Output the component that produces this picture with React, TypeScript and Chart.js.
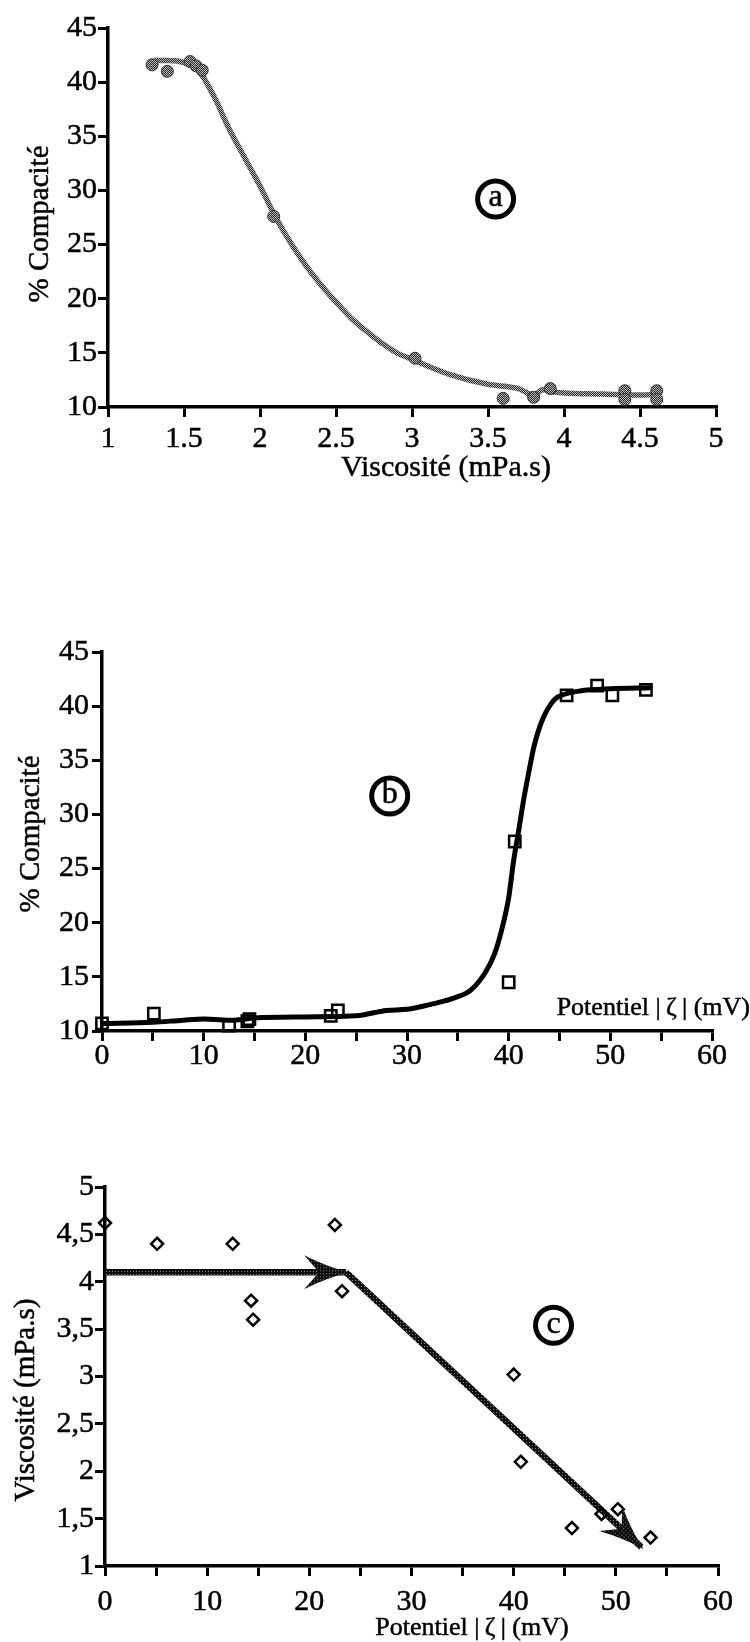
import React, { useEffect, useRef } from 'react';
import { Chart, registerables } from 'chart.js';
Chart.register(...registerables);

const FONT = "'Liberation Serif', 'Times New Roman', serif";
const TICK_SIZE = 30;

// ---------- Chart (a): % Compacité vs Viscosité ----------
const aPointsX = [1.29, 1.39, 1.54, 1.58, 1.62, 2.09, 3.02, 3.6, 3.8, 3.91, 4.4, 4.4, 4.61, 4.61];
const aPointsY = [41.6, 41.0, 41.9, 41.5, 41.1, 27.6, 14.5, 10.8, 10.9, 11.7, 11.5, 10.7, 11.5, 10.7];
const aCurveX = [1.3, 1.4, 1.5, 1.6, 1.7, 1.8, 1.9, 2.0, 2.1, 2.2, 2.3, 2.4, 2.5, 2.6, 2.7, 2.8, 2.9, 3.0, 3.1, 3.25, 3.5, 3.7, 3.8, 3.86, 3.92, 4.0, 4.25, 4.5, 4.62];
const aCurveY = [42.0, 42.0, 41.8, 41.0, 38.6, 35.6, 33.0, 30.4, 27.6, 25.2, 23.1, 21.3, 19.7, 18.2, 17.0, 15.9, 15.0, 14.4, 13.8, 13.0, 12.1, 11.7, 11.1, 11.6, 11.4, 11.3, 11.2, 11.1, 11.2];
const aXTickValues = [1, 1.5, 2, 2.5, 3, 3.5, 4, 4.5, 5];
const aXTickLabels = ['1', '1.5', '2', '2.5', '3', '3.5', '4', '4.5', '5'];
const aYTickValues = [10, 15, 20, 25, 30, 35, 40, 45];
const aYTickLabels = ['10', '15', '20', '25', '30', '35', '40', '45'];
const aLabel = { x: 3.55, y: 29.2, text: 'a' };

// ---------- Chart (b): % Compacité vs Potentiel ----------
const bPointsX = [0, 5.1, 12.5, 14.3, 14.5, 22.5, 23.2, 40.0, 40.6, 45.7, 48.7, 50.2, 53.5];
const bPointsY = [10.7, 11.6, 10.5, 10.9, 11.1, 11.4, 11.9, 14.5, 27.5, 41.0, 41.9, 41.0, 41.5];
const bCurveX = [0, 5, 8, 10, 13, 15, 20, 25, 28, 30, 32.5, 34.8, 36.3, 37.7, 38.6, 39.3, 40.0, 40.5, 41.0, 41.5, 42.0, 42.5, 43.3, 44.5, 45.5, 47, 50, 54];
const bCurveY = [10.7, 10.8, 11.0, 11.1, 11.0, 11.2, 11.3, 11.4, 11.9, 12.0, 12.5, 13.1, 13.8, 15.4, 17.1, 19.3, 22.3, 25.8, 28.6, 31.5, 34.0, 36.3, 38.7, 40.6, 41.1, 41.4, 41.6, 41.7];
const bXTickValues = [0, 5, 10, 15, 20, 25, 30, 35, 40, 45, 50, 55, 60];
const bXTickLabels = ['0', '', '10', '', '20', '', '30', '', '40', '', '50', '', '60'];
const bYTickValues = [10, 15, 20, 25, 30, 35, 40, 45];
const bYTickLabels = ['10', '15', '20', '25', '30', '35', '40', '45'];
const bLabel = { x: 28.3, y: 31.7, text: 'b' };

// ---------- Chart (c): Viscosité vs Potentiel ----------
const cPointsX = [0, 5.1, 12.5, 14.3, 14.5, 22.5, 23.2, 40.0, 40.7, 45.7, 48.6, 50.2, 53.4];
const cPointsY = [4.62, 4.4, 4.4, 3.8, 3.6, 4.6, 3.9, 3.02, 2.1, 1.4, 1.55, 1.6, 1.3];
const cArrow1X = [0, 23.6];
const cArrow1Y = [4.1, 4.1];
const cArrow2X = [23.6, 52.5];
const cArrow2Y = [4.1, 1.2];
const cXTickValues = [0, 5, 10, 15, 20, 25, 30, 35, 40, 45, 50, 55, 60];
const cXTickLabels = ['0', '', '10', '', '20', '', '30', '', '40', '', '50', '', '60'];
const cYTickValues = [1, 1.5, 2, 2.5, 3, 3.5, 4, 4.5, 5];
const cYTickLabels = ['1', '1,5', '2', '2,5', '3', '3,5', '4', '4,5', '5'];
const cLabel = { x: 43.9, y: 3.54, text: 'c' };

const zip = (xs: number[], ys: number[]) => xs.map((x, i) => ({ x, y: ys[i] }));

function makePattern(ctx: CanvasRenderingContext2D, dark: string, light: string, lightCells: number[][], n: number) {
  const c = document.createElement('canvas');
  c.width = n;
  c.height = n;
  const g = c.getContext('2d')!;
  g.fillStyle = dark;
  g.fillRect(0, 0, n, n);
  g.fillStyle = light;
  lightCells.forEach(([x, y]) => g.fillRect(x, y, 1, 1));
  return ctx.createPattern(c, 'repeat')!;
}

function drawText(ctx: CanvasRenderingContext2D, text: string, x: number, y: number, size: number, rotate = 0, align: CanvasTextAlign = 'center') {
  ctx.save();
  ctx.translate(x, y);
  if (rotate) ctx.rotate(rotate);
  ctx.font = `${size}px ${FONT}`;
  ctx.fillStyle = '#000';
  ctx.strokeStyle = '#000';
  ctx.lineWidth = 0.5;
  ctx.textAlign = align;
  ctx.textBaseline = 'middle';
  ctx.fillText(text, 0, 0);
  ctx.strokeText(text, 0, 0);
  ctx.restore();
}

function drawCircleLabel(chart: any, lab: { x: number; y: number; text: string }) {
  const ctx = chart.ctx as CanvasRenderingContext2D;
  const x = chart.scales.x.getPixelForValue(lab.x);
  const y = chart.scales.y.getPixelForValue(lab.y);
  ctx.save();
  ctx.beginPath();
  ctx.arc(x, y, 18, 0, Math.PI * 2);
  ctx.lineWidth = 5;
  ctx.strokeStyle = '#000';
  ctx.stroke();
  ctx.restore();
  drawText(ctx, lab.text, x, y - 1, 32);
}

function drawArrowHead(chart: any, xs: number[], ys: number[], fill: any) {
  const ctx = chart.ctx as CanvasRenderingContext2D;
  const sx = chart.scales.x, sy = chart.scales.y;
  const fx = sx.getPixelForValue(xs[0]), fy = sy.getPixelForValue(ys[0]);
  const tx = sx.getPixelForValue(xs[1]), ty = sy.getPixelForValue(ys[1]);
  const ang = Math.atan2(ty - fy, tx - fx);
  ctx.save();
  ctx.translate(tx, ty);
  ctx.rotate(ang);
  ctx.beginPath();
  ctx.moveTo(3, 0);
  ctx.quadraticCurveTo(-18, -5, -42, -17);
  ctx.lineTo(-27, 0);
  ctx.lineTo(-42, 17);
  ctx.quadraticCurveTo(-18, 5, 3, 0);
  ctx.closePath();
  ctx.fillStyle = fill;
  ctx.fill();
  ctx.restore();
}

interface AxisSpec {
  min: number; max: number; values: number[]; labels: string[]; pad: number; size: number;
}

function makeScales(x: AxisSpec, y: AxisSpec) {
  const grid = { drawOnChartArea: false, drawTicks: true, tickLength: 10, tickWidth: 3, tickColor: '#000', color: '#000', lineWidth: 3 };
  const border = { display: true, color: '#000', width: 3.5 };
  const tickFont = { family: FONT, size: TICK_SIZE };
  return {
    x: {
      type: 'linear', min: x.min, max: x.max,
      afterFit: (s: any) => { s.height = x.size; },
      afterBuildTicks: (s: any) => { s.ticks = x.values.map((v) => ({ value: v })); },
      ticks: { autoSkip: false, maxRotation: 0, minRotation: 0, color: '#000', textStrokeColor: '#000', textStrokeWidth: 0.5, font: tickFont, padding: x.pad, callback: (_v: any, i: number) => x.labels[i] },
      grid, border, title: { display: false },
    },
    y: {
      type: 'linear', min: y.min, max: y.max,
      afterFit: (s: any) => { s.width = y.size; },
      afterBuildTicks: (s: any) => { s.ticks = y.values.map((v) => ({ value: v })); },
      ticks: { autoSkip: false, color: '#000', textStrokeColor: '#000', textStrokeWidth: 0.5, font: tickFont, padding: y.pad, callback: (_v: any, i: number) => y.labels[i] },
      grid, border, title: { display: false },
    },
  };
}

const baseOptions = {
  responsive: false,
  animation: false,
  events: [],
  plugins: { legend: { display: false }, tooltip: { enabled: false } },
};

function configA(ctx: CanvasRenderingContext2D) {
  const pat = makePattern(ctx, '#2a2a2a', '#b8b8b8', [[0, 0], [1, 1]], 2);
  return {
    type: 'scatter',
    data: {
      datasets: [
        { data: zip(aPointsX, aPointsY), pointRadius: 6, pointBackgroundColor: pat, pointBorderColor: '#333', pointBorderWidth: 1, showLine: false, clip: false, order: 1 },
        { data: zip(aCurveX, aCurveY), showLine: true, pointRadius: 0, borderColor: pat, borderWidth: 5.5, cubicInterpolationMode: 'monotone', clip: false, order: 2 },
      ],
    },
    options: {
      ...baseOptions,
      layout: { padding: { left: 0, top: 28, right: 34, bottom: 33 } },
      scales: makeScales(
        { min: 1, max: 5, values: aXTickValues, labels: aXTickLabels, pad: 4, size: 60 },
        { min: 10, max: 45, values: aYTickValues, labels: aYTickLabels, pad: 1, size: 108 },
      ),
    },
    plugins: [{
      id: 'annotA',
      afterDraw(chart: any) {
        const c = chart.ctx;
        drawText(c, 'Viscosité (mPa.s)', 446, 468, 30);
        drawText(c, '% Compacité', 40, 224, 29, -Math.PI / 2);
        drawCircleLabel(chart, aLabel);
      },
    }],
  };
}

function configB(ctx: CanvasRenderingContext2D) {
  return {
    type: 'scatter',
    data: {
      datasets: [
        { data: zip(bPointsX, bPointsY), pointStyle: 'rect', pointRadius: 8, pointBackgroundColor: 'rgba(0,0,0,0)', pointBorderColor: '#000', pointBorderWidth: 2.5, showLine: false, clip: false, order: 1 },
        { data: zip(bCurveX, bCurveY), showLine: true, pointRadius: 0, borderColor: '#000', borderWidth: 5, cubicInterpolationMode: 'monotone', clip: false, order: 2 },
      ],
    },
    options: {
      ...baseOptions,
      layout: { padding: { left: 0, top: 72, right: 38, bottom: 4 } },
      scales: makeScales(
        { min: 0, max: 60, values: bXTickValues, labels: bXTickLabels, pad: -3, size: 45 },
        { min: 10, max: 45, values: bYTickValues, labels: bYTickLabels, pad: 3, size: 102 },
      ),
    },
    plugins: [{
      id: 'annotB',
      afterDraw(chart: any) {
        const c = chart.ctx;
        drawText(c, 'Potentiel |\u2009ζ\u2009| (mV)', 750, 428, 26, 0, 'right');
        drawText(c, '% Compacité', 31, 254, 29, -Math.PI / 2);
        drawCircleLabel(chart, bLabel);
      },
    }],
  };
}

function configC(ctx: CanvasRenderingContext2D) {
  const pat = makePattern(ctx, '#0d0d0d', '#8a8a8a', [[1, 1]], 3);
  return {
    type: 'scatter',
    data: {
      datasets: [
        { data: zip(cPointsX, cPointsY), pointStyle: 'rectRot', pointRadius: 6, pointBackgroundColor: 'rgba(0,0,0,0)', pointBorderColor: '#000', pointBorderWidth: 2.5, showLine: false, clip: false, order: 1 },
        { data: zip(cArrow1X, cArrow1Y), showLine: true, pointRadius: 0, borderColor: pat, borderWidth: 6.5, clip: false, order: 2 },
        { data: zip(cArrow2X, cArrow2Y), showLine: true, pointRadius: 0, borderColor: pat, borderWidth: 6.5, clip: false, order: 2 },
      ],
    },
    options: {
      ...baseOptions,
      layout: { padding: { left: 0, top: 67, right: 32, bottom: 31 } },
      scales: makeScales(
        { min: 0, max: 60, values: cXTickValues, labels: cXTickLabels, pad: 8, size: 45 },
        { min: 1, max: 5, values: cYTickValues, labels: cYTickLabels, pad: 1, size: 105 },
      ),
    },
    plugins: [{
      id: 'annotC',
      afterDatasetsDraw(chart: any) {
        drawArrowHead(chart, cArrow1X, cArrow1Y, pat);
        drawArrowHead(chart, cArrow2X, cArrow2Y, pat);
      },
      afterDraw(chart: any) {
        const c = chart.ctx;
        drawText(c, 'Potentiel |\u2009ζ\u2009| (mV)', 472, 508, 26);
        drawText(c, 'Viscosité (mPa.s)', 26, 280, 29, -Math.PI / 2);
        drawCircleLabel(chart, cLabel);
      },
    }],
  };
}

function Plot({ top, height, build }: { top: number; height: number; build: (ctx: CanvasRenderingContext2D) => any }) {
  const ref = useRef<HTMLCanvasElement>(null);
  useEffect(() => {
    const canvas = ref.current!;
    const ctx = canvas.getContext('2d')!;
    const chart = new Chart(canvas, build(ctx));
    return () => chart.destroy();
  }, []);
  return (
    <div style={{ position: 'absolute', left: 0, top, width: 750, height }}>
      <canvas ref={ref} width={750} height={height} style={{ display: 'block', width: 750, height }} />
    </div>
  );
}

export default function App() {
  return (
    <div style={{ position: 'absolute', left: 0, top: 0, width: 750, height: 1642, background: '#fff' }}>
      <Plot top={0} height={500} build={configA} />
      <Plot top={580} height={500} build={configB} />
      <Plot top={1120} height={522} build={configC} />
    </div>
  );
}
